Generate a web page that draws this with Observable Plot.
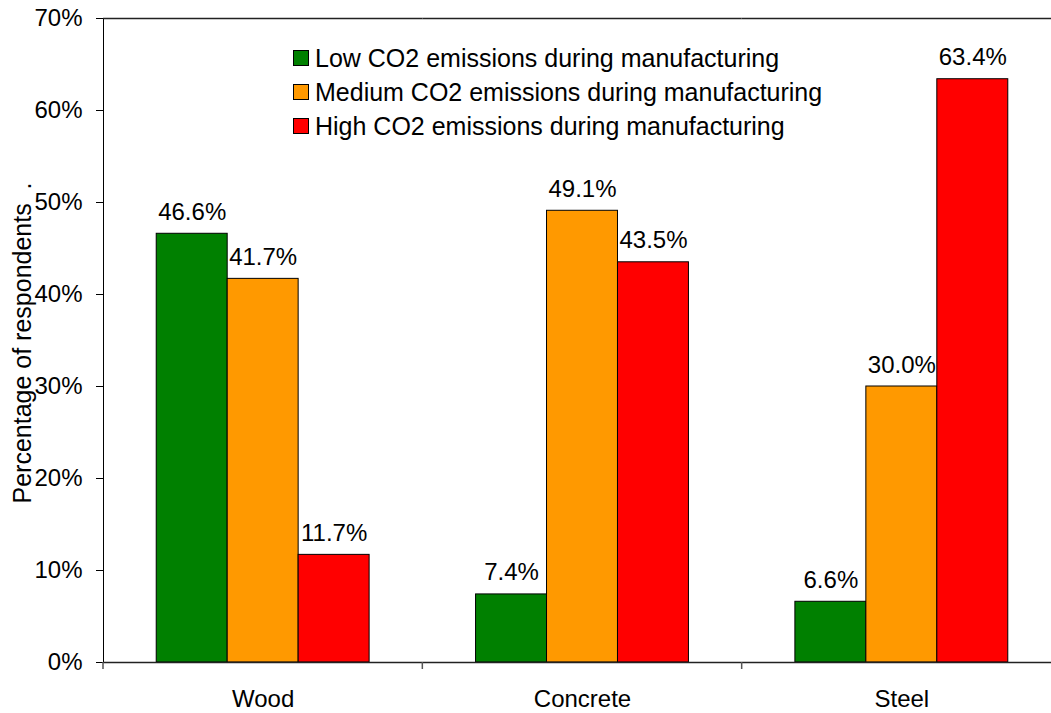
<!DOCTYPE html>
<html>
<head>
<meta charset="utf-8">
<script src="https://cdn.jsdelivr.net/npm/d3@7"></script>
<script src="https://cdn.jsdelivr.net/npm/@observablehq/plot@0.6"></script>
<style>
  html, body { margin: 0; padding: 0; background: #fff; overflow: hidden; }
  #wrap { position: relative; width: 1051px; height: 713px; font-family: "Liberation Sans", Arial, sans-serif; }
  #legend { position: absolute; left: 293px; top: 41px; font-size: 25px; color: #000; }
  .row { display: flex; align-items: center; height: 34px; white-space: nowrap; }
  .sw { width: 16px; height: 16px; box-sizing: border-box; border: 1px solid #000; margin-right: 6px; }
</style>
</head>
<body>
<div id="wrap"><div id="legend"></div></div>
<script>
const categories = ["Wood", "Concrete", "Steel"];
const series = [
  "Low CO2 emissions during manufacturing",
  "Medium CO2 emissions during manufacturing",
  "High CO2 emissions during manufacturing"
];
const lowValues = [46.6, 7.4, 6.6];
const mediumValues = [41.7, 49.1, 30.0];
const highValues = [11.7, 43.5, 63.4];
const colors = ["#008000", "#FF9900", "#FF0000"];
const yTicks = [0, 10, 20, 30, 40, 50, 60, 70];
const yLabel = "Percentage of respondents\u00a0\u00a0.";

const seriesValues = [lowValues, mediumValues, highValues];
const data = [];
categories.forEach((c, i) => {
  series.forEach((s, j) => data.push({category: c, series: s, value: seriesValues[j][i]}));
});

const chart = Plot.plot({
  width: 1051,
  height: 713,
  marginLeft: 103,
  marginRight: -10,
  marginTop: 18,
  marginBottom: 51,
  style: {fontFamily: "'Liberation Sans', Arial, sans-serif", fontSize: "24px", color: "#000", background: "transparent"},
  fx: {domain: categories, padding: 0, round: false, label: null, axis: "bottom", tickSize: 0, tickPadding: 27},
  x: {domain: series, paddingInner: 0, paddingOuter: 0.75, round: false, axis: null},
  y: {domain: [0, 70], ticks: yTicks, tickSize: 7, tickPadding: 14, tickFormat: d => d + "%", label: null, line: true},
  color: {domain: series, range: colors},
  marks: [
    Plot.barY(data, {fx: "category", x: "series", y: "value", fill: "series", stroke: "#000", strokeWidth: 1}),
    Plot.text(data, {fx: "category", x: "series", y: "value", text: d => d.value.toFixed(1) + "%", lineAnchor: "bottom", dy: -14, fontSize: 24, fill: "#000"}),
    Plot.ruleY([0], {stroke: "#222", strokeWidth: 1.5}),
    Plot.ruleY([70], {stroke: "#222", strokeWidth: 1.5})
  ]
});

// Boundary ticks below the category axis, from Plot's scales
const svg = d3.select(chart.tagName.toLowerCase() === "svg" ? chart : chart.querySelector("svg"));
const fx = chart.scale("fx");
const ys = chart.scale("y");
const y0 = ys.apply(0);
const bounds = categories.map(c => fx.apply(c)).concat([fx.apply(categories[categories.length - 1]) + fx.bandwidth]);
svg.append("g").selectAll("line").data(bounds).join("line")
  .attr("x1", d => d).attr("x2", d => d)
  .attr("y1", y0).attr("y2", y0 + 7)
  .attr("stroke", "#555").attr("stroke-width", 1.5);
// y-axis title
svg.append("text")
  .attr("transform", `translate(23,${(ys.apply(0) + ys.apply(70)) / 2 + 3}) rotate(-90)`)
  .attr("text-anchor", "middle")
  .attr("dy", "0.32em")
  .attr("font-size", 25)
  .attr("fill", "#000")
  .text(yLabel);

document.getElementById("wrap").prepend(chart);
chart.style.position = "absolute";
chart.style.left = "0";
chart.style.top = "0";
chart.style.maxWidth = "none";

const legend = d3.select("#legend");
legend.style("z-index", 2);
series.forEach((s, i) => {
  const r = legend.append("div").attr("class", "row");
  r.append("div").attr("class", "sw").style("background", colors[i]);
  r.append("span").text(s);
});
</script>
</body>
</html>
